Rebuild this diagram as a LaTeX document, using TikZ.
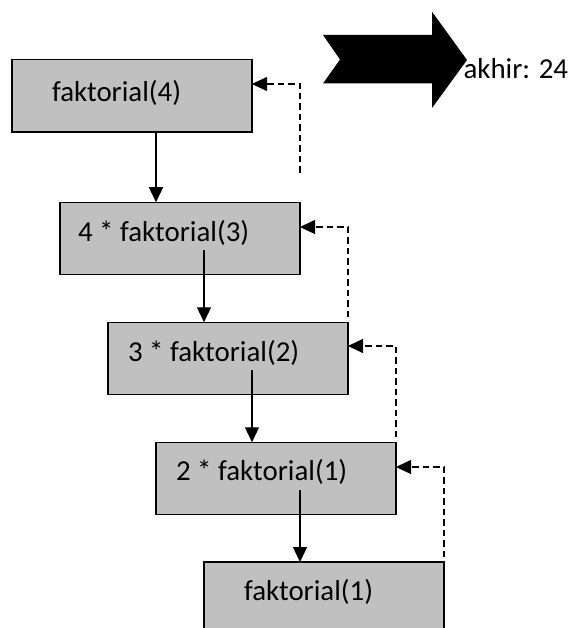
\documentclass[tikz,border=0pt]{standalone}
\usepackage{fontspec}
\setmainfont{Carlito}
\usetikzlibrary{arrows.meta}
\definecolor{boxgray}{RGB}{192,192,192}
\tikzset{
  box/.style={draw=black, line width=1.2pt, fill=boxgray, minimum width=240pt, minimum height=72.5pt, inner sep=0pt, outer sep=0pt},
  txt/.style={inner sep=0pt, outer sep=0pt, anchor=base west, font=\fontsize{28.9}{34}\selectfont},
  call/.style={line width=1.3pt, -{Triangle[length=15pt,width=14pt]}},
  ret/.style={line width=1.3pt, dash pattern=on 6.5pt off 4pt, -{Triangle[length=15pt,width=14pt]}},
}
\begin{document}
\begin{tikzpicture}[x=1pt,y=-1pt]
\useasboundingbox (0,0) rectangle (577,628);
\clip (0,0) rectangle (577,628);
% boxes
\node[box] (b1) at (132,95.75) {};
\node[box] (b2) at (180,238.5) {};
\node[box] (b3) at (228,358.5) {};
\node[box] (b4) at (276,478.5) {};
\node[box] (b5) at (324,598.25) {};
% texts
\node[txt] (t1) at (52,101.7) {faktorial(4)};
\node[txt] (t2) at (78,241) {4 * faktorial(3)};
\node[txt] (t3) at (128,361) {3 * faktorial(2)};
\node[txt] (t4) at (176,480) {2 * faktorial(1)};
\node[txt] (t5) at (244,600) {faktorial(1)};
\node[txt] (res) at (463.5,79) {akhir: 24};
% call arrows
\coordinate (s1) at (156,132);
\coordinate (s2) at (204,250);
\coordinate (s3) at (252,370);
\coordinate (s4) at (300,490);
\draw[call] (s1) -- (s1 |- b2.north);
\draw[call] (s2) -- (s2 |- b3.north);
\draw[call] (s3) -- (s3 |- b4.north);
\draw[call] (s4) -- (s4 |- b5.north);
% return arrows
\coordinate (r1) at (300,173);
\coordinate (r2) at (348,317);
\coordinate (r3) at (396,437);
\coordinate (r4) at (444,557);
\coordinate (e1) at (252,84);
\coordinate (e2) at (300,227);
\coordinate (e3) at (348,346);
\coordinate (e4) at (396,467);
\draw[ret] (r1) |- (e1 -| b1.east);
\draw[ret] (r2) |- (e2 -| b2.east);
\draw[ret] (r3) |- (e3 -| b3.east);
\draw[ret] (r4) |- (e4 -| b4.east);
% big notched arrow
\fill[black] (323,35) -- (432,35) -- (432,11.7) -- (467,60) -- (432,108) -- (432,83.5) -- (323,83.5) -- (340,59.5) -- cycle;
\end{tikzpicture}
\end{document}
